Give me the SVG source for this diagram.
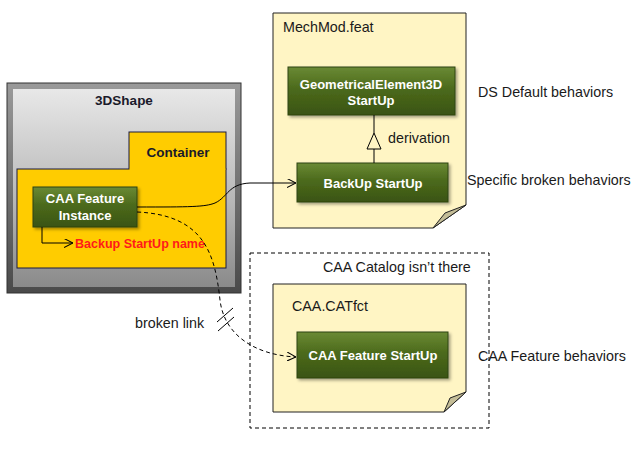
<svg xmlns="http://www.w3.org/2000/svg" width="635" height="456" viewBox="0 0 635 456">
<defs>
<linearGradient id="gGreen" x1="0" y1="0" x2="0" y2="1">
<stop offset="0" stop-color="#6a8a34"/>
<stop offset="0.45" stop-color="#4c6a1c"/>
<stop offset="1" stop-color="#3a5412"/>
</linearGradient>
<linearGradient id="gGray" x1="0" y1="0" x2="0" y2="1">
<stop offset="0" stop-color="#e8e8e8"/>
<stop offset="0.6" stop-color="#b4b4b4"/>
<stop offset="1" stop-color="#8a8a8a"/>
</linearGradient>
<linearGradient id="gBevel" x1="0" y1="0" x2="0" y2="1">
<stop offset="0" stop-color="#9a9a9a"/>
<stop offset="1" stop-color="#4a4a4a"/>
</linearGradient>
<filter id="sh" x="-20%" y="-20%" width="150%" height="160%">
<feDropShadow dx="2" dy="2" stdDeviation="1.5" flood-color="#000" flood-opacity="0.35"/>
</filter>
<marker id="arr" viewBox="0 0 10 10" refX="10" refY="5" markerWidth="9" markerHeight="9" orient="auto" markerUnits="userSpaceOnUse">
<path d="M0,0 L10,5 L0,10" fill="none" stroke="#000" stroke-width="1.2"/>
</marker>
</defs>
<style>
.t{font-family:"Liberation Sans",Arial,sans-serif;font-size:14.3px;fill:#1a1a1a}
.b{font-family:"Liberation Sans",Arial,sans-serif;font-size:13px;font-weight:bold;fill:#ffffff;text-anchor:middle}
.h{font-family:"Liberation Sans",Arial,sans-serif;font-size:13.5px;font-weight:bold;fill:#1a1a2a;text-anchor:middle}
.gbox{fill:url(#gGreen);stroke:#2e4410;stroke-width:1;filter:url(#sh)}
.note{fill:#fff5c4;stroke:#222;stroke-width:1}
.fold{fill:#c4bd97;stroke:#222;stroke-width:1}
.ln{fill:none;stroke:#000;stroke-width:1}
.dash{fill:none;stroke:#000;stroke-width:1;stroke-dasharray:4,3}
</style>

<g id="shape3d">
<rect x="7" y="83" width="234" height="210" fill="url(#gBevel)" stroke="#333" stroke-width="1"/>
<rect x="13" y="89" width="222" height="198" fill="url(#gGray)"/>
<text class="h" x="124" y="105">3DShape</text>
</g>

<g id="container">
<rect x="129" y="132" width="97" height="37" fill="#ffcc00" stroke="#1a1a40" stroke-width="1"/>
<rect x="17" y="169" width="209" height="99" fill="#ffcc00" stroke="#1a1a40" stroke-width="1"/>
<rect x="129.5" y="168" width="96" height="2" fill="#ffcc00"/>
<text class="h" x="178" y="157">Container</text>
</g>

<g id="instance">
<rect class="gbox" x="33" y="187" width="104" height="40"/>
<text class="b" x="85" y="203">CAA Feature</text>
<text class="b" x="85" y="220">Instance</text>
<text x="75" y="248" font-family="'Liberation Sans',Arial,sans-serif" font-size="12.5px" font-weight="bold" fill="#ff1a1a">Backup StartUp name</text>
</g>

<g id="mechmod">
<path class="note" d="M273,13 L466,13 L466,205 L433,228 L273,228 Z"/>
<path class="fold" d="M466,205 L445,213 L433,228 Z"/>
<text class="t" x="283" y="32">MechMod.feat</text>
</g>

<g id="geomStartUp">
<rect class="gbox" x="288" y="67" width="167" height="48"/>
<text class="b" x="371" y="89">GeometricalElement3D</text>
<text class="b" x="371" y="105">StartUp</text>
</g>

<g id="backupStartUp">
<rect class="gbox" x="297" y="163" width="151" height="39"/>
<text class="b" x="373" y="188">BackUp StartUp</text>
</g>

<g id="catalog">
<rect class="dash" x="250" y="253" width="239" height="175"/>
<text class="t" x="323" y="272">CAA Catalog isn’t there</text>
</g>

<g id="catfct">
<path class="note" d="M273,284 L466,284 L466,392 L444,412 L273,412 Z"/>
<path class="fold" d="M466,392 L450,398 L444,412 Z"/>
<text class="t" x="292" y="311">CAA.CATfct</text>
</g>

<g id="caaStartUp">
<rect class="gbox" x="297" y="332" width="151" height="46"/>
<text class="b" x="373" y="360">CAA  Feature StartUp</text>
</g>

<g id="labels">
<text class="t" x="478" y="97">DS Default behaviors</text>
<text class="t" x="467" y="185">Specific broken behaviors</text>
<text class="t" x="478" y="361">CAA Feature behaviors</text>
<text class="t" x="135" y="328">broken link</text>
<text class="t" x="388" y="143">derivation</text>
</g>

<g id="connectors">
<line class="ln" x1="374" y1="115" x2="374" y2="133"/>
<path d="M374,133 L367,149 L381,149 Z" fill="#fff5c4" stroke="#000" stroke-width="1"/>
<line class="ln" x1="374" y1="149" x2="374" y2="163"/>
<path class="ln" d="M137,207 C 190,207 205,207 215,203 C 228,197 228,184 250,183 L296,183" marker-end="url(#arr)"/>
<path class="ln" d="M42,227 L42,243 L73,243" marker-end="url(#arr)"/>
<path class="dash" d="M137,212 C 205,215 215,255 220,300 C 224,335 255,355 296,357" marker-end="url(#arr)"/>
<line class="ln" x1="217" y1="322" x2="233" y2="308"/>
<line class="ln" x1="218" y1="331" x2="234" y2="317"/>
</g>
</svg>
